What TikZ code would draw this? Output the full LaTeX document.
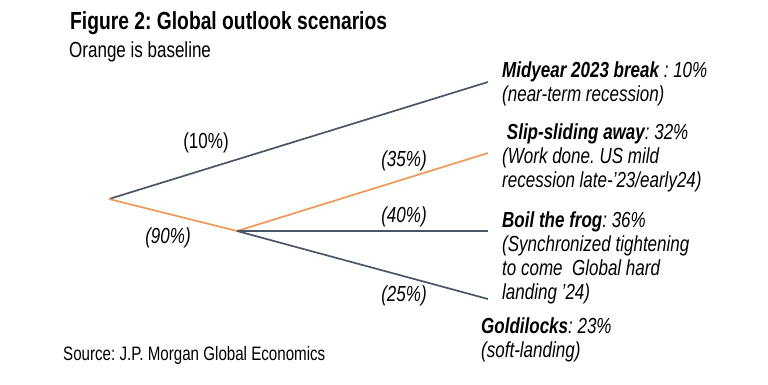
\documentclass[tikz,border=0pt]{standalone}
\usepackage{fontspec}
\setmainfont[FakeStretch=0.78]{Liberation Sans}
\frenchspacing
\usetikzlibrary{positioning}
\definecolor{slate-gray}{RGB}{74,86,104}
\definecolor{base-orange}{RGB}{240,152,88}
\tikzset{
  branch/.style={slate-gray, line width=1.7pt},
  baseline branch/.style={base-orange, line width=1.7pt},
  prob/.style={inner sep=0pt, font=\fontsize{21.8}{24}\selectfont\itshape},
  scen/.style={inner sep=0pt, anchor=north west, align=left, font=\fontsize{21.8}{24}\selectfont\itshape},
}

\begin{document}
\begin{tikzpicture}[x=1pt, y=-1pt]
  \useasboundingbox (0,0) rectangle (768,384);

  \node[inner sep=0pt, anchor=base west, font=\fontsize{24.7}{28}\selectfont\bfseries] (title) at (70,29) {Figure 2: Global outlook scenarios};
  \node[inner sep=0pt, anchor=base west, font=\fontsize{21.8}{24}\selectfont] (sub) at (69,57) {Orange is baseline};

  \coordinate (root) at (109,199);
  \coordinate (split) at (237,231);
  \coordinate (e1) at (488,82);
  \coordinate (e2) at (488,153);
  \coordinate (e3) at (488,231);
  \coordinate (e4) at (488,299);

  \draw[branch] (root) -- (e1);
  \draw[baseline branch] (root) -- (split);
  \draw[baseline branch] (split) -- (e2);
  \draw[branch] (split) -- (e3);
  \draw[branch] (split) -- (e4);

  % branch probabilities
  \node[prob, font=\fontsize{21.8}{24}\selectfont\upshape] (p10) at (206,143) {(10\%)};
  \node[prob] (p90) at (168,238) {(90\%)};
  \node[prob] (p35) at (404,161) {(35\%)};
  \node[prob] (p40) at (404,217) {(40\%)};
  \node[prob] (p25) at (404,296) {(25\%)};

  % scenarios
  \node[scen] (break) at (502,60) {\strut\textbf{Midyear 2023 break} : 10\%\\(near-term recession)};
  \node[scen] (slip) at (502,122) {\strut\ \textbf{Slip-sliding away}: 32\%\\(Work done. US mild\\recession late-'23/early24)};
  \node[scen] (frog) at (502,210) {\strut\textbf{Boil the frog}: 36\%\\(Synchronized tightening\\to come\ \ Global hard\\landing '24)};
  \node[scen] (gold) at (481,316) {\strut\textbf{Goldilocks}: 23\%\\(soft-landing)};

  \node[inner sep=0pt, anchor=base west, font=\fontsize{19.4}{22}\selectfont] (src) at (63,360) {Source: J.P. Morgan Global Economics};
\end{tikzpicture}
\end{document}
